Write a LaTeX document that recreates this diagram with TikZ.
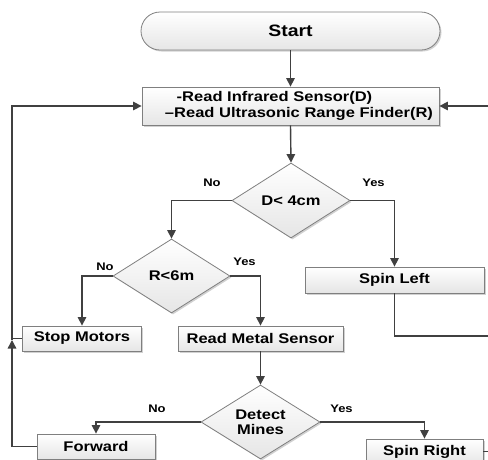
\documentclass[tikz,border=0pt]{standalone}
\usepackage{fontspec}
\setmainfont{Liberation Sans}[FakeStretch=1.18]
\usetikzlibrary{shapes.geometric,arrows.meta,shadows}
\definecolor{linec}{HTML}{404040}
\definecolor{borderc}{HTML}{7F7F7F}
\begin{document}
\begin{tikzpicture}[x=1pt,y=-1pt,
  shapebase/.style={draw=borderc, line width=0.8pt, top color=white, bottom color=gray!20,
    drop shadow={shadow xshift=1.5pt,shadow yshift=-1.5pt,fill=black!40,opacity=0.45},
    inner sep=0pt, text=black, font=\fontsize{14}{16}\selectfont\bfseries},
  box/.style={shapebase, rectangle},
  dec/.style={shapebase, diamond, aspect=1.6},
  conn/.style={draw=linec, line width=1.4pt},
  arr/.style={conn, -{Triangle[length=8.5pt,width=8.5pt]}},
  lab/.style={font=\fontsize{11}{12}\selectfont\bfseries, text=black}]
\useasboundingbox (0,0) rectangle (488,459);
\clip (0,0) rectangle (488,459);
% nodes
\node[box, minimum width=299pt, minimum height=38pt, rounded corners=19pt,
      font=\fontsize{16.5}{18}\selectfont\bfseries] (start) at (290.5,31) {Start};
\node[box, minimum width=297pt, minimum height=38pt, align=center] (read) at (290.5,106)
  {-Read Infrared Sensor(D)\hspace*{32pt}\\\hspace*{17pt}–Read Ultrasonic Range Finder(R)};
\node[dec, minimum width=118pt, minimum height=75pt] (d1) at (291,200.5) {D< 4cm};
\node[box, minimum width=179pt, minimum height=26pt] (spinL) at (394.5,280) {Spin Left};
\node[dec, minimum width=117pt, minimum height=74pt] (d2) at (171.5,276) {R<6m};
\node[box, minimum width=119pt, minimum height=25pt] (stop) at (82,338.5) {Stop Motors};
\node[box, minimum width=165pt, minimum height=25pt] (metal) at (260.5,338.5) {Read Metal Sensor};
\node[dec, minimum width=119pt, minimum height=74pt, align=center,
      font=\fontsize{14}{15}\selectfont\bfseries] (d3) at (260.5,422) {Detect\\Mines};
\node[box, minimum width=118pt, minimum height=25pt] (fwd) at (96,446.5) {Forward};
\node[box, minimum width=117pt, minimum height=25pt] (spinR) at (424.5,451.5) {Spin Right};
% labels
\node[lab] (no1) at (212,183) {No};
\node[lab] (yes1) at (373.5,183) {Yes};
\node[lab] (no2) at (105,267) {No};
\node[lab] (yes2) at (244.5,262) {Yes};
\node[lab] (no3) at (157,409) {No};
\node[lab] (yes3) at (341.5,409) {Yes};
% connectors
\coordinate (r1) at (490,336);
\coordinate (r2) at (492,452);
\coordinate (l1) at (12,340);
\draw[arr] (start.south) -- (read.north);
\draw[arr] (read.south) -- (d1.north);
\draw[arr] (d1.west) -| (d2.north);
\draw[arr] (d1.east) -| (spinL.north);
\draw[arr] (spinL.south) |- (r1) |- (read.east);
\draw[arr] (d2.west) -| (stop.north);
\draw[arr] (d2.east) -| (metal.north);
\draw[arr] (metal.south) -- (d3.north);
\draw[arr] (d3.west) -| (fwd.north);
\draw[arr] (d3.east) -| (spinR.north);
\draw[arr] (fwd.west) -| (l1);
\draw[conn] (stop.west) -- (stop.west -| l1);
\draw[arr] (l1) |- (read.west);
\draw[conn] (spinR.east) -- (spinR.east -| r2);
\end{tikzpicture}
\end{document}
